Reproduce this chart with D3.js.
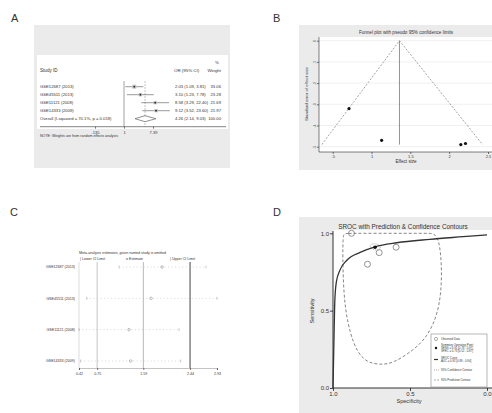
<!DOCTYPE html>
<html>
<head>
<meta charset="utf-8">
<script src="https://cdn.jsdelivr.net/npm/d3@7"></script>
<style>
  body { margin: 0; background: #fff; }
  text { font-family: "Liberation Sans", Arial, sans-serif; fill: #333; }
</style>
</head>
<body>
<svg id="fig" width="492" height="413"></svg>
<script>
// ---- data ----
var studies = ["GSE12687 (2013)", "GSE45511 (2013)", "GSE11121 (2008)", "GSE14333 (2009)"];

// A: forest plot, odds ratios
var orEst  = [2.03, 3.10, 8.58, 9.12];
var orLow  = [1.09, 1.23, 3.29, 3.52];
var orHigh = [3.81, 7.78, 22.40, 23.60];
var weights = [33.06, 23.28, 21.69, 21.97];
var pooledOR = [4.26, 2.14, 9.03];          // est, low, high
var overallLabel = "Overall  (I-squared = 70.1%, p = 0.018)";
var forestTicks = [0.135, 1, 7.39];

// B: funnel plot
var lnOR   = [0.71, 1.13, 2.15, 2.21];
var seLnOR = [0.32, 0.47, 0.49, 0.485];
var fixedLnOR = 1.36;
var funnelSE = [0, 0.49], funnelLo = [1.36, 0.36], funnelHi = [1.36, 2.43];
var funnelTicksX = [0.5, 1, 1.5, 2, 2.5];
var funnelTicksY = [0, 0.1, 0.2, 0.3, 0.4, 0.5];

// C: influence analysis (study omitted)
var omitEst  = [1.93, 1.73, 1.33, 1.36];
var omitLow  = [1.15, 0.56, 0.42, 0.45];
var omitHigh = [2.73, 2.93, 2.24, 2.27];
var infTicks = [0.42, 0.75, 1.59, 2.44, 2.93];   // min, lower CI, estimate, upper CI, max

// D: SROC
var obsSpec = [0.88, 0.776, 0.70, 0.59];
var obsSens = [1.0, 0.80, 0.875, 0.91];
var summarySpec = 0.727, summarySens = 0.91;
var srocSpec = [1.0, 0.994, 0.988, 0.978, 0.955, 0.91, 0.824, 0.727, 0.586, 0.371, 0.155, 0.0];
var srocSens = [0.0, 0.30, 0.568, 0.687, 0.762, 0.826, 0.877, 0.913, 0.939, 0.961, 0.978, 0.99];
var predSpec = [0.93, 0.915, 0.80, 0.625, 0.45, 0.37, 0.345, 0.31, 0.293, 0.298, 0.326, 0.39, 0.478, 0.608, 0.694, 0.780, 0.845, 0.888, 0.920, 0.933, 0.937, 0.935];
var predSens = [0.995, 1.0, 1.0, 1.0, 1.0, 1.0, 0.998, 0.96, 0.784, 0.611, 0.460, 0.330, 0.244, 0.16, 0.15, 0.165, 0.235, 0.352, 0.503, 0.676, 0.848, 0.97];
var confSpec = [0.765, 0.74, 0.70, 0.688, 0.71, 0.75];
var confSens = [0.922, 0.935, 0.93, 0.905, 0.888, 0.897];

var svg = d3.select("#fig");
var BG = "#ebebeb";

function label(x, y, t, size, anchor, g) {
    return (g || svg).append("text").attr("x", x).attr("y", y)
        .attr("font-size", size).attr("text-anchor", anchor || "start").text(t);
}

// panel letters
label(11, 22, "A", 11);
label(273, 22, "B", 11);
label(10, 216, "C", 11);
label(273, 216, "D", 11);

// ================= A : forest plot =================
(function () {
    var g = svg.append("g");
    g.append("rect").attr("x", 34).attr("y", 25).attr("width", 196).attr("height", 143).attr("fill", BG);
    g.append("rect").attr("x", 37).attr("y", 55).attr("width", 191).attr("height", 74).attr("fill", "#fff");

    var x = d3.scaleLog().domain([0.135, 7.39]).range([95, 153]);
    var rows = studies.concat(["overall"]);
    var y = d3.scaleBand().domain(rows).range([82.7, 122.7]);
    var cy = function (d) { return y(d) + y.bandwidth() / 2; };
    var fmt = d3.format(".2f");

    label(40, 72, "Study ID", 4.6, "start", g);
    label(174, 72, "OR (95% CI)", 4.4, "start", g);
    label(219, 64, "%", 4.4, "end", g);
    label(221, 72, "Weight", 4.4, "end", g);

    // null line and overall line
    g.append("line").attr("x1", x(1)).attr("x2", x(1)).attr("y1", 81).attr("y2", 126.7)
        .attr("stroke", "#444").attr("stroke-width", 0.5);
    g.append("line").attr("x1", x(pooledOR[0])).attr("x2", x(pooledOR[0])).attr("y1", 81).attr("y2", 126.7)
        .attr("stroke", "#888").attr("stroke-width", 0.5).attr("stroke-dasharray", "2,1");

    studies.forEach(function (s, i) {
        g.append("line").attr("x1", x(orLow[i])).attr("x2", x(orHigh[i]))
            .attr("y1", cy(s)).attr("y2", cy(s)).attr("stroke", "#555").attr("stroke-width", 0.6);
        var side = Math.sqrt(weights[i]) * 0.7;
        g.append("rect").attr("x", x(orEst[i]) - side / 2).attr("y", cy(s) - side / 2)
            .attr("width", side).attr("height", side).attr("fill", "#c4c4c4");
        g.append("circle").attr("cx", x(orEst[i])).attr("cy", cy(s)).attr("r", 0.9).attr("fill", "#222");
        label(40, cy(s) + 1.5, s, 4.2, "start", g);
        label(175, cy(s) + 1.5, fmt(orEst[i]) + " (" + fmt(orLow[i]) + ", " + fmt(orHigh[i]) + ")", 4.2, "start", g);
        label(221, cy(s) + 1.5, fmt(weights[i]), 4.2, "end", g);
    });

    var oy = cy("overall");
    g.append("polygon")
        .attr("points", [[x(pooledOR[1]), oy], [x(pooledOR[0]), oy - 3], [x(pooledOR[2]), oy], [x(pooledOR[0]), oy + 3]].join(" "))
        .attr("fill", "#fff").attr("stroke", "#444").attr("stroke-width", 0.6);
    label(40, oy + 1.5, overallLabel, 4.2, "start", g);
    label(175, oy + 1.5, fmt(pooledOR[0]) + " (" + fmt(pooledOR[1]) + ", " + fmt(pooledOR[2]) + ")", 4.2, "start", g);
    label(221, oy + 1.5, "100.00", 4.2, "end", g);

    // axis
    g.append("line").attr("x1", 40).attr("x2", 226).attr("y1", 126.7).attr("y2", 126.7)
        .attr("stroke", "#333").attr("stroke-width", 0.6);
    var ax = g.append("g").attr("transform", "translate(0,126.7)")
        .call(d3.axisBottom(x).tickValues(forestTicks).tickSize(2).tickFormat(function (d) {
            return d < 1 ? ".135" : d3.format("")(d);
        }));
    ax.select(".domain").remove();
    ax.selectAll("text").attr("font-size", 4).attr("dy", "0.5em");
    ax.selectAll("line").attr("stroke-width", 0.5);
    label(40, 137, "NOTE: Weights are from random effects analysis", 3.6, "start", g);
})();

// ================= B : funnel plot =================
(function () {
    var g = svg.append("g");
    g.append("rect").attr("x", 299).attr("y", 25).attr("width", 193).attr("height", 145).attr("fill", BG);
    g.append("rect").attr("x", 319).attr("y", 37).attr("width", 173).attr("height", 115).attr("fill", "#fff");

    var x = d3.scaleLinear().domain([0.5, 2.5]).range([332.7, 488]);
    var y = d3.scaleLinear().domain([0, 0.5]).range([40.7, 146.7]);

    // grid
    g.selectAll(".grid").data(funnelTicksY).enter().append("line")
        .attr("x1", 319).attr("x2", 492).attr("y1", function (d) { return y(d); })
        .attr("y2", function (d) { return y(d); }).attr("stroke", "#e6e6e6").attr("stroke-width", 0.6);

    var ya = g.append("g").attr("transform", "translate(319,0)")
        .call(d3.axisLeft(y).tickValues(funnelTicksY).tickSize(2)
            .tickFormat(function (d) { return d === 0 ? "0" : d3.format(".1f")(d).replace(/^0/, ""); }));
    ya.select(".domain").attr("d", "M0,37V152").attr("stroke-width", 0.5);
    ya.selectAll("line").attr("stroke-width", 0.5);
    ya.selectAll(".tick text").attr("font-size", 3.6).attr("dy", 0).attr("x", 0).attr("y", -3.5)
        .attr("text-anchor", "middle").attr("transform", "rotate(-90)");

    var xa = g.append("g").attr("transform", "translate(0,152)")
        .call(d3.axisBottom(x).tickValues(funnelTicksX).tickSize(2)
            .tickFormat(function (d) { return d < 1 ? ".5" : d3.format("")(d); }));
    xa.select(".domain").attr("d", "M319,0H492").attr("stroke-width", 0.5);
    xa.selectAll("line").attr("stroke-width", 0.5);
    xa.selectAll("text").attr("font-size", 4).attr("dy", "0.3em");

    var line = d3.line().x(function (d) { return x(d[0]); }).y(function (d) { return y(d[1]); });
    g.append("path").attr("d", line([[funnelLo[1], funnelSE[1]], [funnelLo[0], funnelSE[0]], [funnelHi[1], funnelSE[1]]]))
        .attr("fill", "none").attr("stroke", "#666").attr("stroke-width", 0.6).attr("stroke-dasharray", "2,1.5");
    g.append("line").attr("x1", x(fixedLnOR)).attr("x2", x(fixedLnOR)).attr("y1", y(0)).attr("y2", y(funnelSE[1]))
        .attr("stroke", "#666").attr("stroke-width", 0.7);

    g.selectAll(".pt").data(lnOR).enter().append("circle")
        .attr("cx", function (d) { return x(d); })
        .attr("cy", function (d, i) { return y(seLnOR[i]); })
        .attr("r", 1.6).attr("fill", "#111");

    label(406, 34, "Funnel plot with pseudo 95% confidence limits", 4.6, "middle", g);
    label(406, 163, "Effect size", 4.6, "middle", g);
    label(0, 0, "Standard error of effect size", 4.4, "middle", g)
        .attr("transform", "translate(308,94) rotate(-90)");
})();

// ================= C : influence analysis =================
(function () {
    var g = svg.append("g");
    var x = d3.scaleLinear().domain([0.42, 2.93]).range([79, 217]);
    var y = d3.scalePoint().domain(studies).range([267, 361]);

    label(79, 254, "Meta-analysis estimates, given named study is omitted", 3.6, "start", g);
    label(80, 260, "| Lower CI Limit", 3.6, "start", g);
    label(126, 260, "o Estimate", 3.6, "start", g);
    label(170, 260, "| Upper CI Limit", 3.6, "start", g);

    g.append("line").attr("x1", 79).attr("x2", 79).attr("y1", 262).attr("y2", 368)
        .attr("stroke", "#bbb").attr("stroke-width", 0.5);
    var refCol = ["#aaa", "#999", "#444"], refW = [0.7, 0.7, 1];
    [1, 2, 3].forEach(function (k, j) {
        g.append("line").attr("x1", x(infTicks[k])).attr("x2", x(infTicks[k]))
            .attr("y1", 262).attr("y2", 368).attr("stroke", refCol[j]).attr("stroke-width", refW[j]);
    });

    studies.forEach(function (s, i) {
        var yy = y(s);
        g.append("line").attr("x1", x(omitLow[i])).attr("x2", x(omitHigh[i])).attr("y1", yy).attr("y2", yy)
            .attr("stroke", "#bbb").attr("stroke-width", 0.6).attr("stroke-dasharray", "1,2.5");
        [omitLow[i], omitHigh[i]].forEach(function (v) {
            g.append("line").attr("x1", x(v)).attr("x2", x(v)).attr("y1", yy - 1.5).attr("y2", yy + 1.5)
                .attr("stroke", "#999").attr("stroke-width", 0.5);
        });
        g.append("circle").attr("cx", x(omitEst[i])).attr("cy", yy).attr("r", 1.3)
            .attr("fill", "none").attr("stroke", "#888").attr("stroke-width", 0.5);
        label(75, yy + 1.3, s, 3.6, "end", g);
    });

    var xa = g.append("g").attr("transform", "translate(0,368)")
        .call(d3.axisBottom(x).tickValues(infTicks).tickSize(2).tickFormat(d3.format(".2f")));
    xa.select(".domain").attr("stroke-width", 0.5).attr("stroke", "#888");
    xa.selectAll("line").attr("stroke-width", 0.5);
    xa.selectAll("text").attr("font-size", 3.6).attr("dy", "0.6em");
})();

// ================= D : SROC =================
(function () {
    var g = svg.append("g");
    g.append("rect").attr("x", 299).attr("y", 217).attr("width", 193).attr("height", 196).attr("fill", BG);
    g.append("rect").attr("x", 333).attr("y", 230).attr("width", 159).attr("height", 158).attr("fill", "#fff");

    var x = d3.scaleLinear().domain([1, 0]).range([333, 487]);
    var y = d3.scaleLinear().domain([0, 1]).range([388, 233.3]);

    var ya = g.append("g").attr("transform", "translate(333,0)")
        .call(d3.axisLeft(y).tickValues([0, 0.5, 1]).tickSize(3).tickFormat(d3.format(".1f")));
    ya.select(".domain").attr("d", "M0,231V388").attr("stroke-width", 0.8);
    ya.selectAll("line").attr("stroke-width", 0.7);
    ya.selectAll("text").attr("font-size", 6).attr("x", -4);
    var xa = g.append("g").attr("transform", "translate(0,388)")
        .call(d3.axisBottom(x).tickValues([1, 0.5, 0]).tickSize(3).tickFormat(d3.format(".1f")));
    xa.select(".domain").attr("d", "M333,0H492").attr("stroke-width", 0.8);
    xa.selectAll("line").attr("stroke-width", 0.7);
    xa.selectAll("text").attr("font-size", 6).attr("dy", "0.4em");

    label(403, 229, "SROC with Prediction & Confidence Contours", 6.4, "middle", g);
    label(409, 403, "Specificity", 5.6, "middle", g);
    label(0, 0, "Sensitivity", 5.6, "middle", g).attr("transform", "translate(314,311) rotate(-90)");

    var pt = function (sp, se) { return sp.map(function (d, i) { return [x(d), y(se[i])]; }); };

    g.append("path").attr("d", d3.line().curve(d3.curveBasisClosed)(pt(predSpec, predSens)))
        .attr("fill", "none").attr("stroke", "#777").attr("stroke-width", 0.9).attr("stroke-dasharray", "3,2");
    g.append("path").attr("d", d3.line().curve(d3.curveBasisClosed)(pt(confSpec, confSens)))
        .attr("fill", "none").attr("stroke", "#777").attr("stroke-width", 0.6).attr("stroke-dasharray", "1,1");
    g.append("path").attr("d", d3.line().curve(d3.curveMonotoneX)(pt(srocSpec, srocSens)))
        .attr("fill", "none").attr("stroke", "#333").attr("stroke-width", 1.3);

    g.selectAll(".obs").data(obsSpec).enter().append("circle")
        .attr("cx", function (d) { return x(d); })
        .attr("cy", function (d, i) { return y(obsSens[i]); })
        .attr("r", 3).attr("fill", "none").attr("stroke", "#777").attr("stroke-width", 0.8);
    g.append("circle").attr("cx", x(summarySpec)).attr("cy", y(summarySens)).attr("r", 1.8).attr("fill", "#111");

    // legend
    var lg = g.append("g");
    lg.append("rect").attr("x", 431).attr("y", 334).attr("width", 56).attr("height", 53)
        .attr("fill", "#fff").attr("stroke", "#888").attr("stroke-width", 0.6);
    lg.append("circle").attr("cx", 436).attr("cy", 339).attr("r", 1.6).attr("fill", "none").attr("stroke", "#777").attr("stroke-width", 0.6);
    label(441, 340, "Observed Data", 2.8, "start", lg);
    lg.append("circle").attr("cx", 436).attr("cy", 348).attr("r", 1.2).attr("fill", "#111");
    label(441, 346, "Summary Operating Point", 2.8, "start", lg);
    label(441, 349, "SENS = 0.91 [0.78 - 0.97]", 2.8, "start", lg);
    label(441, 352, "SPEC = 0.73 [0.52 - 0.87]", 2.8, "start", lg);
    lg.append("line").attr("x1", 434).attr("x2", 438).attr("y1", 359.5).attr("y2", 359.5).attr("stroke", "#333").attr("stroke-width", 1.2);
    label(441, 359, "SROC Curve", 2.8, "start", lg);
    label(441, 362, "AUC = 0.92 [0.89 - 0.94]", 2.8, "start", lg);
    lg.append("line").attr("x1", 434).attr("x2", 439).attr("y1", 370).attr("y2", 370).attr("stroke", "#777").attr("stroke-width", 0.6).attr("stroke-dasharray", "1,1");
    label(441, 371, "95% Confidence Contour", 2.8, "start", lg);
    lg.append("line").attr("x1", 434).attr("x2", 439).attr("y1", 380).attr("y2", 380).attr("stroke", "#777").attr("stroke-width", 0.6).attr("stroke-dasharray", "2,1");
    label(441, 381, "95% Prediction Contour", 2.8, "start", lg);
})();
</script>
</body>
</html>
